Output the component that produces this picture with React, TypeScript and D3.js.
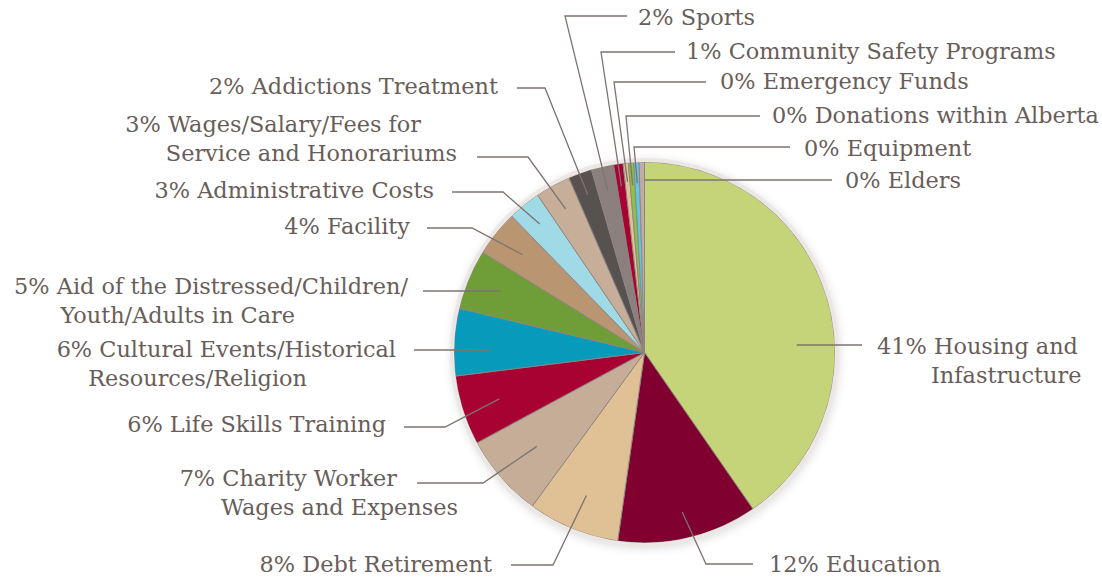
import * as d3 from 'd3';

// Funding categories, clockwise from 12 o'clock
const CATEGORIES = [
  'Housing and Infastructure',
  'Education',
  'Debt Retirement',
  'Charity Worker Wages and Expenses',
  'Life Skills Training',
  'Cultural Events/Historical Resources/Religion',
  'Aid of the Distressed/Children/Youth/Adults in Care',
  'Facility',
  'Administrative Costs',
  'Wages/Salary/Fees for Service and Honorariums',
  'Addictions Treatment',
  'Sports',
  'Community Safety Programs',
  'Emergency Funds',
  'Donations within Alberta',
  'Equipment',
  'Elders',
];

// share of total, percent
const VALUES = [40.4, 11.9, 7.8, 7.1, 5.9, 5.7, 5.1, 3.9, 2.8, 3.0, 2.0, 1.9, 0.8, 0.45, 0.45, 0.45, 0.45];

const LABEL_LINES = [
  ['41% Housing and', 'Infastructure'],
  ['12% Education'],
  ['8% Debt Retirement'],
  ['7% Charity Worker', 'Wages and Expenses'],
  ['6% Life Skills Training'],
  ['6% Cultural Events/Historical', 'Resources/Religion'],
  ['5% Aid of the Distressed/Children/', 'Youth/Adults in Care'],
  ['4% Facility'],
  ['3% Administrative Costs'],
  ['3% Wages/Salary/Fees for', 'Service and Honorariums'],
  ['2% Addictions Treatment'],
  ['2% Sports'],
  ['1% Community Safety Programs'],
  ['0% Emergency Funds'],
  ['0% Donations within Alberta'],
  ['0% Equipment'],
  ['0% Elders'],
];

const COLORS = [
  '#c5d479', '#800030', '#e0c195', '#c6ad98', '#a80232', '#079bbb', '#6f9e38', '#ba9571',
  '#a0dae6', '#c6ae98', '#575150', '#8b807e', '#a80232', '#e3c294', '#8cc04a', '#5ec8e5', '#c2aaa8',
];

// label placement: side, leader y, elbow x (null = straight), line end x,
// leader radius factor, per-line text x and baselines
type Layout = {
  side: 'left' | 'right';
  lineY: number;
  elbowX: number | null;
  endX: number;
  rf: number;
  textX: number[];
  baseY: number[];
};

const LAYOUT: Layout[] = [
  { side: 'right', lineY: 345, elbowX: null, endX: 862, rf: 0.8, textX: [877, 931], baseY: [354, 383] },
  { side: 'right', lineY: 564, elbowX: 706, endX: 753, rf: 0.86, textX: [769], baseY: [572] },
  { side: 'left', lineY: 565, elbowX: 553, endX: 511, rf: 0.81, textX: [492], baseY: [572] },
  { side: 'left', lineY: 483, elbowX: 483, endX: 417, rf: 0.75, textX: [397, 458], baseY: [486, 515] },
  { side: 'left', lineY: 427, elbowX: 445, endX: 404, rf: 0.8, textX: [386], baseY: [432] },
  { side: 'left', lineY: 350, elbowX: null, endX: 414, rf: 0.81, textX: [396, 307], baseY: [357, 386] },
  { side: 'left', lineY: 291, elbowX: null, endX: 423, rf: 0.82, textX: [408, 295], baseY: [294, 323] },
  { side: 'left', lineY: 228, elbowX: 472, endX: 427, rf: 0.82, textX: [410], baseY: [234] },
  { side: 'left', lineY: 192, elbowX: 503, endX: 452, rf: 0.87, textX: [434], baseY: [198] },
  { side: 'left', lineY: 157, elbowX: 528, endX: 477, rf: 0.86, textX: [421, 457], baseY: [132, 161] },
  { side: 'left', lineY: 88, elbowX: 545, endX: 517, rf: 0.88, textX: [498], baseY: [94] },
  { side: 'right', lineY: 16, elbowX: 565, endX: 627, rf: 0.87, textX: [638], baseY: [25] },
  { side: 'right', lineY: 52, elbowX: 601, endX: 675, rf: 0.88, textX: [686], baseY: [59] },
  { side: 'right', lineY: 82, elbowX: 614, endX: 706, rf: 0.9, textX: [720], baseY: [89] },
  { side: 'right', lineY: 116, elbowX: 626, endX: 760, rf: 0.88, textX: [772], baseY: [123] },
  { side: 'right', lineY: 147, elbowX: 634, endX: 790, rf: 0.89, textX: [804], baseY: [156] },
  { side: 'right', lineY: 180, elbowX: null, endX: 832, rf: 0.905, textX: [845], baseY: [188] },
];

const WIDTH = 1102;
const HEIGHT = 578;
const CX = 644.5;
const CY = 352.5;
const R = 190.5;

const TEXT_COLOR = '#695d5a';
const LINE_COLOR = '#7d7370';

type Datum = { name: string; value: number; color: string };

export default function App() {
  const data: Datum[] = CATEGORIES.map((name, i) => ({ name, value: VALUES[i], color: COLORS[i] }));

  const pie = d3
    .pie<Datum>()
    .value((d) => d.value)
    .sort(null)
    .startAngle(0)
    .endAngle(2 * Math.PI);
  const arcs = pie(data);

  const arc = d3.arc<d3.PieArcDatum<Datum>>().innerRadius(0).outerRadius(R);

  const leaderPath = (a: d3.PieArcDatum<Datum>, l: Layout) => {
    const rr = l.rf * R;
    const sign = l.side === 'right' ? 1 : -1;
    if (l.elbowX === null) {
      // straight leader: start on the leader's own row
      const sy = l.lineY;
      const sx = CX + sign * Math.sqrt(Math.max(0, rr * rr - (sy - CY) * (sy - CY)));
      return `M${sx},${sy}L${l.endX},${l.lineY}`;
    }
    const mid = (a.startAngle + a.endAngle) / 2;
    const sx = CX + rr * Math.sin(mid);
    const sy = CY - rr * Math.cos(mid);
    return `M${sx},${sy}L${l.elbowX},${l.lineY}L${l.endX},${l.lineY}`;
  };

  return (
    <>
      <style>{'body{margin:0}'}</style>
      <svg width={WIDTH} height={HEIGHT} style={{ display: 'block', background: '#fff' }}>
        <defs>
          <filter id="pieShadow" x="-20%" y="-20%" width="140%" height="140%">
            <feGaussianBlur stdDeviation="5" />
          </filter>
        </defs>
        <circle cx={CX + 1} cy={CY + 2} r={R + 4} fill="#000" opacity={0.12} filter="url(#pieShadow)" />
        <circle cx={CX} cy={CY} r={R + 2} fill="#ebe7e5" />
        <g transform={`translate(${CX},${CY})`}>
          {arcs.map((a, i) => (
            <path key={i} d={arc(a) ?? ''} fill={a.data.color} stroke="#8c8480" strokeWidth={0.9} strokeLinejoin="round" />
          ))}
        </g>
        <circle cx={CX} cy={CY} r={R + 2} fill="none" stroke="#ebe7e5" strokeWidth={4} />
        <g fill="none" stroke={LINE_COLOR} strokeWidth={1.3}>
          {arcs.map((a, i) => (
            <path key={i} d={leaderPath(a, LAYOUT[i])} />
          ))}
        </g>
        <g fontFamily="'DejaVu Serif', serif" fontSize={22.4} fill={TEXT_COLOR}>
          {LABEL_LINES.map((lines, i) => {
            const l = LAYOUT[i];
            return lines.map((t, j) => (
              <text
                key={`${i}-${j}`}
                x={l.textX[j]}
                y={l.baseY[j]}
                textAnchor={l.side === 'right' ? 'start' : 'end'}
              >
                {t}
              </text>
            ));
          })}
        </g>
      </svg>
    </>
  );
}
